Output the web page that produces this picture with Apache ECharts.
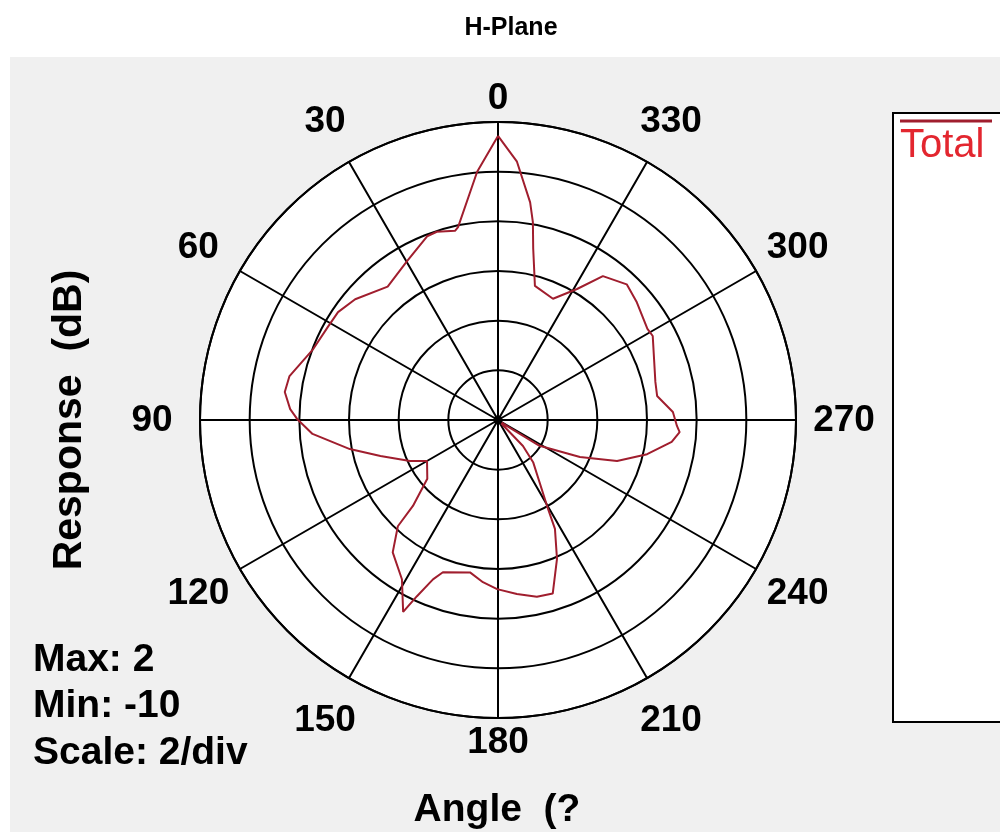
<!DOCTYPE html>
<html>
<head>
<meta charset="utf-8">
<script src="https://cdn.jsdelivr.net/npm/echarts@6/dist/echarts.min.js"></script>
<style>
html,body{margin:0;padding:0;background:#fff;}
#panel{position:absolute;left:10px;top:57px;width:990px;height:775px;background:#f0f0f0;}
#disk{position:absolute;left:200px;top:122px;width:596px;height:596px;border-radius:50%;background:#fff;}
#c{position:absolute;left:0;top:0;width:1000px;height:832px;}
</style>
</head>
<body>
<div id="panel"></div>
<div id="disk"></div>
<div id="c"></div>
<script>
// ---- data ----
const chartTitle = 'H-Plane';
const seriesName = 'Total';
const angles = [0, 4.8, 11.7, 12.8, 18.0, 21.1, 29.8, 39.6, 49.8, 56.0,
  61.3, 69.0, 78.1, 82.5, 87.0, 89.7, 94.3, 101.1, 107.0, 115.0,
  120.0, 129.7, 135.3, 136.7, 141.5, 148.9, 153.7, 155.3, 157.8, 160.1,
  169.6, 174.7, 179.7, 186.2, 192.4, 197.5, 203.0, 207.6, 209.7, 219.8,
  223.9, 228.0, 236.3, 238.2, 245.7, 251.0, 257.1, 262.8, 266.2, 268.1,
  272.6, 278.6, 283.6, 298.5, 301.4, 310.3, 316.5, 323.9, 328.9, 335.6,
  344.6, 348.4, 350.0, 351.6, 355.8, 360];
const values = [1.44, 0.03, -2.07, -2.19, -2.03, -2.07, -2.63, -3.03, -2.47, -2.23,
  -2.19, -2.03, -1.42, -1.34, -1.62, -1.91, -2.51, -3.92, -5.05, -6.09,
  -6.70, -6.30, -5.13, -4.12, -3.19, -2.51, -1.38, -2.19, -3.07, -3.48,
  -3.76, -3.44, -3.19, -2.95, -2.71, -2.67, -3.92, -5.05, -6.01, -7.79,
  -8.55, -10, -9.56, -8.03, -6.38, -4.93, -3.84, -2.95, -2.67, -2.79,
  -2.95, -3.52, -3.48, -2.91, -2.95, -2.67, -2.47, -2.83, -3.84, -4.64,
  -4.40, -2.95, -1.91, -1.14, 0.43, 1.44];
const angleTicks = [0, 30, 60, 90, 120, 150, 180, 210, 240, 270, 300, 330];
const radiusMin = -10;
const radiusMax = 2;
const radiusStep = 2;
const statsLines = ['Max: 2', 'Min: -10', 'Scale: 2/div'];
const yAxisTitle = 'Response  (dB)';
const xAxisTitle = 'Angle  (?';

// ---- chart ----
const FONT = "'Liberation Sans', Arial, sans-serif";
const polarCenter = [498, 420];
const polarRadius = 298;
const chart = echarts.init(document.getElementById('c'), null, {renderer: 'canvas'});

const option = {
  animation: false,
  backgroundColor: 'transparent',
  polar: {center: polarCenter, radius: polarRadius},
  angleAxis: {
    type: 'value', min: 0, max: 360, interval: 30,
    startAngle: 90, clockwise: false,
    axisLine: {show: true, lineStyle: {color: '#000', width: 2}},
    axisTick: {show: false},
    axisLabel: {show: false},
    splitLine: {show: true, lineStyle: {color: '#000', width: 2, opacity: 1}},
    splitArea: {show: false}
  },
  radiusAxis: {
    type: 'value', min: radiusMin, max: radiusMax, interval: radiusStep,
    axisLine: {show: false},
    axisTick: {show: false},
    axisLabel: {show: false},
    splitLine: {show: true, lineStyle: {color: '#000', width: 2, opacity: 1}},
    splitArea: {show: false}
  },
  series: [{
    name: seriesName,
    type: 'line',
    coordinateSystem: 'polar',
    data: angles.map((a, i) => [values[i], a]),
    symbol: 'none',
    showSymbol: false,
    smooth: false,
    silent: true,
    lineStyle: {color: '#a01e2e', width: 2},
    z: 5
  }]
};
chart.setOption(option);

const toRadiusValue = px => radiusMin + (radiusMax - radiusMin) * px / polarRadius;
const graphics = [];
angleTicks.forEach(a => {
  const gap = (a % 180 === 0) ? 24 : 48;
  const p = chart.convertToPixel({seriesIndex: 0}, [toRadiusValue(polarRadius + gap), a]);
  graphics.push({
    type: 'text', x: p[0], y: p[1] + 1, z: 10,
    style: {text: String(a), font: 'bold 37px ' + FONT, fill: '#000', align: 'center', verticalAlign: 'middle'}
  });
});
// centre hub
const hub = chart.convertToPixel({seriesIndex: 0}, [radiusMin, 0]);
graphics.push({
  type: 'circle', z: 10,
  shape: {cx: hub[0], cy: hub[1], r: 4.5},
  style: {fill: '#000'}
});
graphics.push({
  type: 'text', x: 511, y: 28, z: 10,
  style: {text: chartTitle, font: 'bold 25px ' + FONT, fill: '#000', align: 'center', verticalAlign: 'middle'}
});
graphics.push({
  type: 'text', x: 70, y: 420, rotation: Math.PI / 2, z: 10,
  style: {text: yAxisTitle, font: 'bold 41px ' + FONT, fill: '#000', align: 'center', verticalAlign: 'middle'}
});
graphics.push({
  type: 'text', x: 497, y: 810, z: 10,
  style: {text: xAxisTitle, font: 'bold 39px ' + FONT, fill: '#000', align: 'center', verticalAlign: 'middle'}
});
statsLines.forEach((t, i) => {
  graphics.push({
    type: 'text', x: 33, y: 660 + i * 46.5, z: 10,
    style: {text: t, font: 'bold 39px ' + FONT, fill: '#000', align: 'left', verticalAlign: 'middle'}
  });
});
// legend box
graphics.push({
  type: 'rect', z: 10,
  shape: {x: 893, y: 113, width: 120, height: 609},
  style: {fill: '#ffffff', stroke: '#000', lineWidth: 2}
});
graphics.push({
  type: 'line', z: 11,
  shape: {x1: 900, y1: 121, x2: 992, y2: 121},
  style: {stroke: '#a01e2e', lineWidth: 3}
});
graphics.push({
  type: 'text', x: 900, y: 146, z: 11,
  style: {text: seriesName, font: '40px ' + FONT, fill: '#e3262f', align: 'left', verticalAlign: 'middle'}
});
chart.setOption({graphic: graphics});
</script>
</body>
</html>
